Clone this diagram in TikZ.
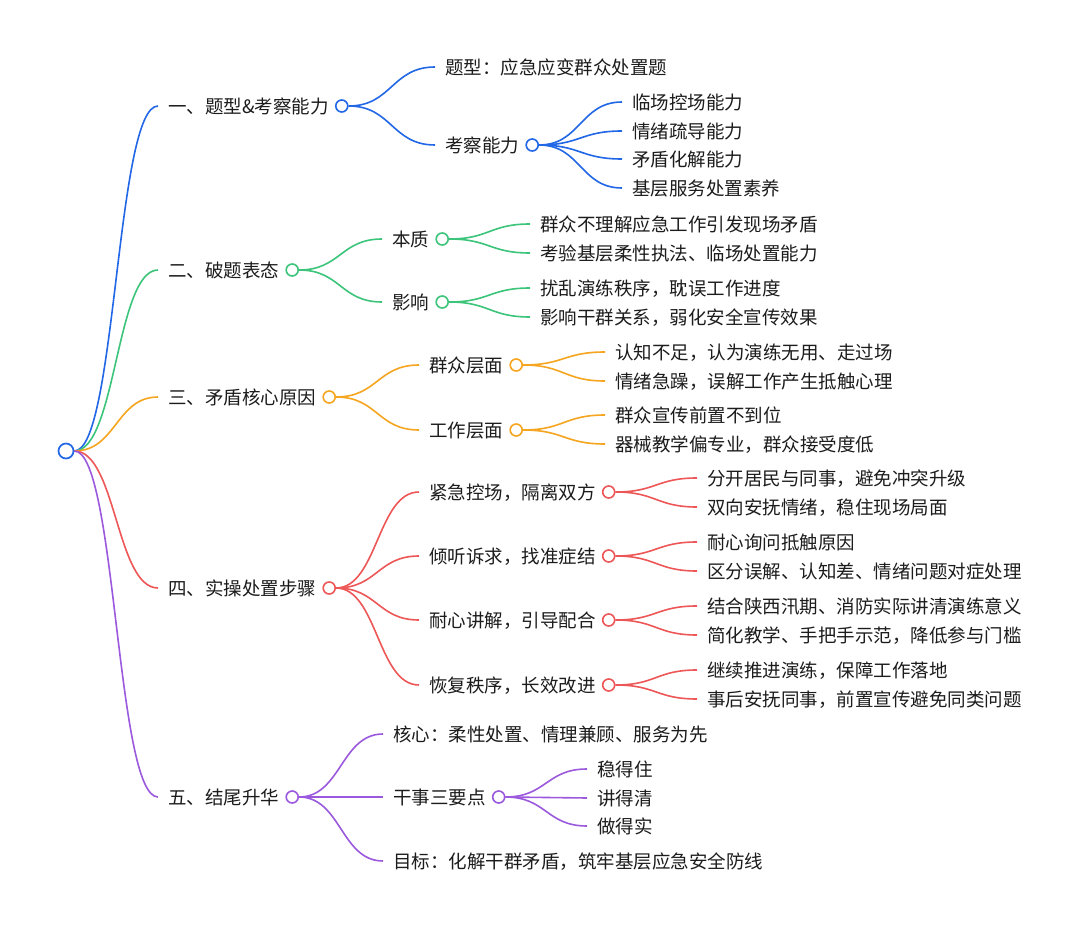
\documentclass[tikz,border=0pt]{standalone}
\usepackage{fontspec}
\setmainfont{Noto Sans CJK SC}
\usetikzlibrary{calc,backgrounds}
\definecolor{cb}{HTML}{2167E6}
\definecolor{cg}{HTML}{3CC57A}
\definecolor{co}{HTML}{F5A51F}
\definecolor{cr}{HTML}{EE5757}
\definecolor{cp}{HTML}{9B59DD}
\definecolor{ink}{HTML}{1C1C1C}
\begin{document}
\begin{tikzpicture}[x=1pt,y=-1pt,
 txt/.style={anchor=west, inner xsep=10pt, inner ysep=0pt, text height=14.1pt, text depth=0pt, text=ink, font=\fontsize{18.5}{22}\selectfont},
 dot/.style={circle, draw=#1, fill=white, line width=1.6pt, minimum size=12pt, inner sep=0pt, anchor=west},
 link/.style={draw=#1, line width=1.6pt, to path={let \p1=(\tikztostart), \p2=(\tikztotarget) in .. controls ({(\x1+\x2)/2},\y1) and ({(\x1+\x2)/2},\y2) .. (\tikztotarget)}}
]
\useasboundingbox (0,0) rectangle (1080,928);

% root
\node[circle, draw=cb, fill=white, line width=1.7pt, minimum size=15pt, inner sep=0pt] (R) at (66,451) {};

% ---------- branch 1 ----------
\node[txt] (a) at (158,106) {一、题型\&考察能力};
\node[dot=cb] (ac) at ([xshift=-4pt]a.east) {};
\node[txt] (a1) at (435,67) {题型：应急应变群众处置题};
\node[txt] (a2) at (435,145) {考察能力};
\node[dot=cb] (a2c) at ([xshift=-4pt]a2.east) {};
\node[txt] (a21) at (622,102) {临场控场能力};
\node[txt] (a22) at (622,131) {情绪疏导能力};
\node[txt] (a23) at (622,159) {矛盾化解能力};
\node[txt] (a24) at (622,188) {基层服务处置素养};

% ---------- branch 2 ----------
\node[txt] (b) at (158,270) {二、破题表态};
\node[dot=cg] (bc) at ([xshift=-4pt]b.east) {};
\node[txt] (b1) at (382,239) {本质};
\node[dot=cg] (b1c) at ([xshift=-4pt]b1.east) {};
\node[txt] (b2) at (382,302) {影响};
\node[dot=cg] (b2c) at ([xshift=-4pt]b2.east) {};
\node[txt] (b11) at (530,224) {群众不理解应急工作引发现场矛盾};
\node[txt] (b12) at (530,253) {考验基层柔性执法、临场处置能力};
\node[txt] (b21) at (530,288) {扰乱演练秩序，耽误工作进度};
\node[txt] (b22) at (530,317) {影响干群关系，弱化安全宣传效果};

% ---------- branch 3 ----------
\node[txt] (c) at (158,397) {三、矛盾核心原因};
\node[dot=co] (cc) at ([xshift=-4pt]c.east) {};
\node[txt] (c1) at (419,365) {群众层面};
\node[dot=co] (c1c) at ([xshift=-4pt]c1.east) {};
\node[txt] (c2) at (419,430) {工作层面};
\node[dot=co] (c2c) at ([xshift=-4pt]c2.east) {};
\node[txt] (c11) at (605,352) {认知不足，认为演练无用、走过场};
\node[txt] (c12) at (605,381) {情绪急躁，误解工作产生抵触心理};
\node[txt] (c21) at (605,415) {群众宣传前置不到位};
\node[txt] (c22) at (605,444) {器械教学偏专业，群众接受度低};

% ---------- branch 4 ----------
\node[txt] (d) at (158,588) {四、实操处置步骤};
\node[dot=cr] (dc) at ([xshift=-4pt]d.east) {};
\node[txt] (d1) at (419,492) {紧急控场，隔离双方};
\node[dot=cr] (d1c) at ([xshift=-4pt]d1.east) {};
\node[txt] (d2) at (419,556) {倾听诉求，找准症结};
\node[dot=cr] (d2c) at ([xshift=-4pt]d2.east) {};
\node[txt] (d3) at (419,620) {耐心讲解，引导配合};
\node[dot=cr] (d3c) at ([xshift=-4pt]d3.east) {};
\node[txt] (d4) at (419,685) {恢复秩序，长效改进};
\node[dot=cr] (d4c) at ([xshift=-4pt]d4.east) {};
\node[txt] (d11) at (697,478) {分开居民与同事，避免冲突升级};
\node[txt] (d12) at (697,507) {双向安抚情绪，稳住现场局面};
\node[txt] (d21) at (697,542) {耐心询问抵触原因};
\node[txt] (d22) at (697,571) {区分误解、认知差、情绪问题对症处理};
\node[txt] (d31) at (697,606) {结合陕西汛期、消防实际讲清演练意义};
\node[txt] (d32) at (697,635) {简化教学、手把手示范，降低参与门槛};
\node[txt] (d41) at (697,670) {继续推进演练，保障工作落地};
\node[txt] (d42) at (697,699) {事后安抚同事，前置宣传避免同类问题};

% ---------- branch 5 ----------
\node[txt] (e) at (158,797) {五、结尾升华};
\node[dot=cp] (ec) at ([xshift=-4pt]e.east) {};
\node[txt] (e1) at (383,734) {核心：柔性处置、情理兼顾、服务为先};
\node[txt] (e2) at (383,797) {干事三要点};
\node[dot=cp] (e2c) at ([xshift=-4pt]e2.east) {};
\node[txt] (e3) at (383,861) {目标：化解干群矛盾，筑牢基层应急安全防线};
\node[txt] (e21) at (587,769) {稳得住};
\node[txt] (e22) at (587,798) {讲得清};
\node[txt] (e23) at (587,826) {做得实};

\begin{scope}[on background layer]
\fill[white] (0,0) rectangle (1080,928);
% root links
\draw[link=cb] (R.east) to (a.west);
\draw[link=cg] (R.east) to (b.west);
\draw[link=co] (R.east) to (c.west);
\draw[link=cr] (R.east) to (d.west);
\draw[link=cp] (R.east) to (e.west);
% branch 1
\draw[link=cb] (ac.east) to (a1.west);
\draw[link=cb] (ac.east) to (a2.west);
\foreach \k in {a21,a22,a23,a24} \draw[link=cb] (a2c.east) to (\k.west);
% branch 2
\draw[link=cg] (bc.east) to (b1.west);
\draw[link=cg] (bc.east) to (b2.west);
\foreach \k in {b11,b12} \draw[link=cg] (b1c.east) to (\k.west);
\foreach \k in {b21,b22} \draw[link=cg] (b2c.east) to (\k.west);
% branch 3
\draw[link=co] (cc.east) to (c1.west);
\draw[link=co] (cc.east) to (c2.west);
\foreach \k in {c11,c12} \draw[link=co] (c1c.east) to (\k.west);
\foreach \k in {c21,c22} \draw[link=co] (c2c.east) to (\k.west);
% branch 4
\foreach \k in {d1,d2,d3,d4} \draw[link=cr] (dc.east) to (\k.west);
\foreach \k in {d11,d12} \draw[link=cr] (d1c.east) to (\k.west);
\foreach \k in {d21,d22} \draw[link=cr] (d2c.east) to (\k.west);
\foreach \k in {d31,d32} \draw[link=cr] (d3c.east) to (\k.west);
\foreach \k in {d41,d42} \draw[link=cr] (d4c.east) to (\k.west);
% branch 5
\foreach \k in {e1,e2,e3} \draw[link=cp] (ec.east) to (\k.west);
\foreach \k in {e21,e22,e23} \draw[link=cp] (e2c.east) to (\k.west);
\end{scope}
\end{tikzpicture}
\end{document}
